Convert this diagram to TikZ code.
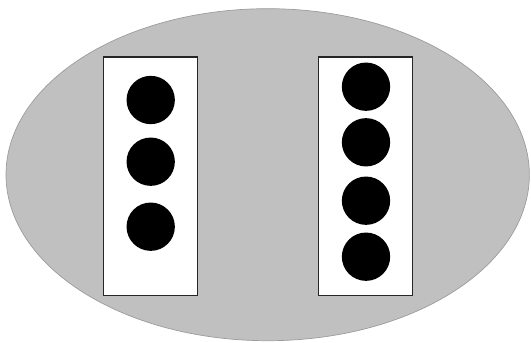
\documentclass[tikz,border=0pt]{standalone}
\usepackage{tikz}
\usetikzlibrary{shapes.geometric}
\definecolor{setgray}{HTML}{C0C0C0}
\definecolor{setedge}{HTML}{9C9C9C}
\tikzset{
  groupbox/.style={draw=black!85, line width=1.2pt, fill=white, minimum width=2.82cm, minimum height=7.14cm, inner sep=0pt},
  ball/.style={circle, fill=black, minimum size=1.45cm, inner sep=0pt}
}
\begin{document}
\begin{tikzpicture}[x=0.03cm, y=-0.03cm]
    % page frame, in pixel units of the reference
    \useasboundingbox (0,0) rectangle (531,343);

    % grey set
    \node[ellipse, draw=setedge, line width=0.6pt, fill=setgray, minimum width=15.7cm, minimum height=9.96cm, inner sep=0pt] (set) at (267.7,174.7) {};

    % two groups
    \node[groupbox] (left) at (150.3,176.2) {};
    \node[groupbox] (right) at (365.3,176.2) {};

    % members of the left group
    \node[ball] (l1) at (150.7,100) {};
    \node[ball] (l2) at (150.7,161.7) {};
    \node[ball] (l3) at (150.7,226.7) {};

    % members of the right group
    \node[ball] (r1) at (366,86.7) {};
    \node[ball] (r2) at (366,142.3) {};
    \node[ball] (r3) at (366,200.7) {};
    \node[ball] (r4) at (366,256.7) {};
\end{tikzpicture}
\end{document}
